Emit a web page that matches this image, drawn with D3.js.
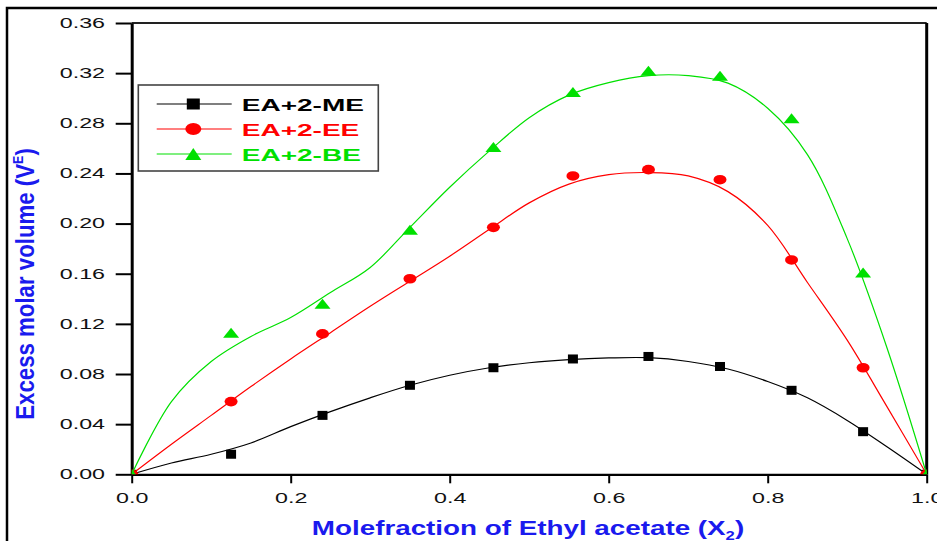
<!DOCTYPE html>
<html>
<head>
<meta charset="utf-8">
<script src="https://cdn.jsdelivr.net/npm/d3@7"></script>
<style>
  body { margin: 0; background: #fff; }
  svg { display: block; }
  text { font-family: "Liberation Sans", Arial, sans-serif; }
</style>
</head>
<body>
<div id="chart"></div>
<script>
// measured points (mole fraction of ethyl acetate, excess molar volume)
const moleFrac = [0, 0.125, 0.24, 0.35, 0.455, 0.555, 0.65, 0.74, 0.83, 0.92, 1];
const vME = [0, 0.016, 0.047, 0.071, 0.085, 0.092, 0.094, 0.086, 0.067, 0.034, 0];
const vEE = [0, 0.058, 0.112, 0.156, 0.197, 0.238, 0.243, 0.235, 0.171, 0.085, 0];
const vBE = [0, 0.113, 0.136, 0.195, 0.261, 0.305, 0.322, 0.318, 0.284, 0.161, 0];

// fitted curves
const fitX  = [0, 0.05, 0.1, 0.15, 0.2, 0.25, 0.3, 0.35, 0.4, 0.45, 0.5, 0.55, 0.6, 0.65, 0.7, 0.75, 0.8, 0.85, 0.9, 0.95, 1];
const fitME = [0, 0.009, 0.016, 0.025, 0.038, 0.050, 0.061, 0.071, 0.079, 0.085, 0.089, 0.0915, 0.0928, 0.093, 0.090, 0.084, 0.074, 0.061, 0.043, 0.022, 0];
const fitEE = [0, 0.024, 0.047, 0.070, 0.092, 0.113, 0.134, 0.154, 0.174, 0.1955, 0.2165, 0.2315, 0.239, 0.2407, 0.238, 0.2255, 0.1985, 0.153, 0.107, 0.054, 0];
const fitBE = [0, 0.058, 0.090, 0.110, 0.125, 0.145, 0.165, 0.197, 0.229, 0.258, 0.2845, 0.3025, 0.3125, 0.318, 0.318, 0.312, 0.292, 0.255, 0.188, 0.101, 0];

const xTicks = [0, 0.2, 0.4, 0.6, 0.8, 1.0];
const yTicks = [0, 0.04, 0.08, 0.12, 0.16, 0.20, 0.24, 0.28, 0.32, 0.36];
const seriesNames = ["EA+2-ME", "EA+2-EE", "EA+2-BE"];
const seriesColors = ["#000000", "#ff0000", "#00e000"];
const seriesShapes = ["square", "circle", "triangle"];

const width = 937, height = 541;
const plotLeft = 131.7, plotRight = 926.7, plotTop = 23, plotBottom = 474.3;
const titleBlue = "#1a1aee";

const svg = d3.select("#chart").append("svg")
  .attr("width", width)
  .attr("height", height);

// outer frame
svg.append("path")
  .attr("d", `M7,${height} L7,8 L${width},8`)
  .attr("fill", "none")
  .attr("stroke", "#000")
  .attr("stroke-width", 2.5);

const x = d3.scaleLinear().domain([0, 1]).range([plotLeft, plotRight]);
const y = d3.scaleLinear().domain([0, 0.36]).range([plotBottom, plotTop]);

svg.append("defs").append("clipPath").attr("id", "plotClip")
  .append("rect")
  .attr("x", plotLeft).attr("y", plotTop)
  .attr("width", plotRight - plotLeft).attr("height", plotBottom - plotTop);

// top and right frame lines
svg.append("line")
  .attr("x1", plotLeft).attr("x2", plotRight).attr("y1", plotTop).attr("y2", plotTop)
  .attr("stroke", "#222").attr("stroke-width", 2);
svg.append("line")
  .attr("x1", plotRight).attr("x2", plotRight).attr("y1", plotTop).attr("y2", plotBottom)
  .attr("stroke", "#000").attr("stroke-width", 3);

// axes
const xAxis = svg.append("g")
  .attr("transform", `translate(0,${plotBottom})`)
  .call(d3.axisBottom(x).tickValues(xTicks).tickFormat(d3.format(".1f")).tickSize(9).tickSizeOuter(0));
xAxis.select(".domain").attr("stroke-width", 2.2);
xAxis.selectAll(".tick line").attr("stroke-width", 2);
xAxis.selectAll(".tick text")
  .attr("y", 29).attr("dy", 0)
  .attr("transform", "scale(1.5,1)")
  .attr("font-size", 15.5)
  .attr("font-family", '"Liberation Sans", Arial, sans-serif')
  .attr("fill", "#111");

const yAxis = svg.append("g")
  .attr("transform", `translate(${plotLeft},0)`)
  .call(d3.axisLeft(y).tickValues(yTicks).tickFormat(d3.format(".2f")).tickSize(16).tickSizeOuter(0));
yAxis.select(".domain").attr("stroke-width", 3);
yAxis.selectAll(".tick line").attr("stroke-width", 2);
yAxis.selectAll(".tick text")
  .attr("x", -(plotLeft - 105) / 1.5).attr("dy", "0.28em")
  .attr("transform", "scale(1.5,1)")
  .attr("font-size", 15.5)
  .attr("font-family", '"Liberation Sans", Arial, sans-serif')
  .attr("fill", "#111");

// marker drawing
function drawMarker(g, shape, cx, cy, color, big) {
  if (shape === "square") {
    const w = big ? 13 : 10, h = big ? 11 : 9;
    g.append("rect").attr("x", cx - w / 2).attr("y", cy - h / 2)
      .attr("width", w).attr("height", h).attr("fill", color);
  } else if (shape === "circle") {
    g.append("ellipse").attr("cx", cx).attr("cy", cy)
      .attr("rx", big ? 8 : 6.5).attr("ry", big ? 6 : 4.8).attr("fill", color);
  } else {
    const w = 16, h = big ? 12 : 10;
    g.append("path")
      .attr("d", `M${cx - w / 2},${cy + h / 2} L${cx + w / 2},${cy + h / 2} L${cx},${cy - h / 2} Z`)
      .attr("fill", color);
  }
}

const fits = [fitME, fitEE, fitBE];
const values = [vME, vEE, vBE];
const line = d3.line()
  .x(d => x(d[0]))
  .y(d => y(d[1]))
  .curve(d3.curveCatmullRom.alpha(0.5));

const plot = svg.append("g").attr("clip-path", "url(#plotClip)");

values.forEach((vals, i) => {
  const fitPts = fitX.map((fx, k) => [fx, fits[i][k]]);
  plot.append("path")
    .attr("d", line(fitPts))
    .attr("fill", "none")
    .attr("stroke", seriesColors[i])
    .attr("stroke-width", 1.2);
  const mg = plot.append("g");
  moleFrac.forEach((mf, k) => {
    drawMarker(mg, seriesShapes[i], x(mf), y(vals[k]), seriesColors[i], false);
  });
});

// legend
const legend = svg.append("g");
legend.append("rect")
  .attr("x", 138.3).attr("y", 85)
  .attr("width", 240).attr("height", 86)
  .attr("fill", "#fff")
  .attr("stroke", "#444")
  .attr("stroke-width", 1.6);

seriesNames.forEach((name, i) => {
  const ly = 104 + i * 25;
  legend.append("line")
    .attr("x1", 156.7).attr("x2", 231.7).attr("y1", ly).attr("y2", ly)
    .attr("stroke", seriesColors[i]).attr("stroke-width", 1.2);
  drawMarker(legend, seriesShapes[i], 193.3, ly, seriesColors[i], true);
  legend.append("text")
    .attr("transform", `translate(241.7,${ly + 6.5}) scale(1.63,1)`)
    .attr("font-size", 17.2)
    .attr("font-weight", "bold")
    .attr("fill", seriesColors[i])
    .text(name);
});

// axis titles
const xTitle = svg.append("text")
  .attr("transform", "translate(528,535) scale(1.39,1)")
  .attr("text-anchor", "middle")
  .attr("font-size", 20)
  .attr("font-weight", "bold")
  .attr("fill", titleBlue);
xTitle.append("tspan").text("Molefraction of Ethyl acetate (X");
xTitle.append("tspan").attr("font-size", 12).attr("dy", 5).text("2");
xTitle.append("tspan").attr("dy", -5).text(")");

const yTitle = svg.append("text")
  .attr("transform", "translate(34,284) rotate(-90) scale(0.89,1)")
  .attr("text-anchor", "middle")
  .attr("font-size", 25)
  .attr("font-weight", "bold")
  .attr("fill", titleBlue);
yTitle.append("tspan").text("Excess molar volume (V");
yTitle.append("tspan").attr("font-size", 14).attr("dy", -11).text("E");
yTitle.append("tspan").attr("dy", 11).text(")");
</script>
</body>
</html>
